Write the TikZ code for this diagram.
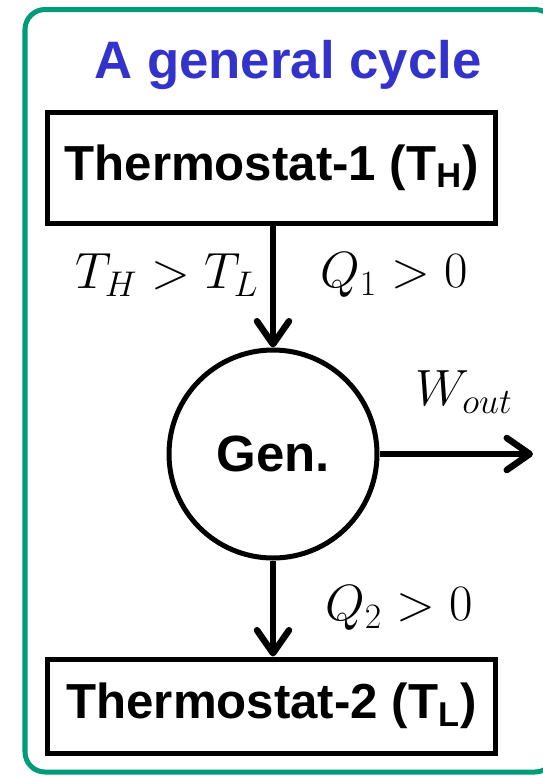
\documentclass[tikz,border=0pt]{standalone}
\usepackage{fix-cm}
\usepackage{fontspec}
\setmainfont{Liberation Sans}
\usetikzlibrary{arrows.meta, positioning}
\definecolor{framec}{HTML}{009B77}
\definecolor{titlec}{HTML}{3333CC}

\begin{document}
\begin{tikzpicture}[>={Straight Barb[length=4.6mm, width=6.4mm, round]},
      tbox/.style={draw, line width=0.1cm, minimum width=8.96cm, inner sep=0pt, font=\fontsize{28}{32}\selectfont\bfseries},
      gen/.style={draw, circle, line width=0.1cm, minimum size=4.16cm, inner sep=0pt, font=\fontsize{29}{34}\selectfont\bfseries},
      arr/.style={->, line width=0.13cm},
      lab/.style={font=\fontsize{29}{34}\selectfont}]
    \useasboundingbox (0,0) rectangle (10.86,-15.52);
    \draw[framec, line width=0.1cm, rounded corners=0.4cm] (0.5,-0.19) rectangle (11.1,-15.44);
    \node[anchor=base, text=titlec, font=\fontsize{30}{36}\selectfont\bfseries] (title) at (5.76,-1.56) {A general cycle};
    \node[tbox, minimum height=2.22cm] (hot) at (5.43,-3.35) {Thermostat-1 (T\textsubscript{H})};
    \node[gen] (engine) at (5.46,-9.08) {Gen.};
    \node[tbox, minimum height=1.88cm] (cold) at (5.43,-14.12) {Thermostat-2 (T\textsubscript{L})};
    \coordinate (wend) at (10.66,-9.08);
    % heat in, work out, heat rejected
    \draw[arr] (hot.south -| engine.north) -- (engine.north);
    \draw[arr] (engine.east) -- (wend);
    \draw[arr] (engine.south) -- (cold.north -| engine.south);
    \node[lab] (tcond) at (3.34,-5.5) {$T_H > T_L$};
    \node[lab] (qin) at (7.88,-5.5) {$Q_1 > 0$};
    \node[lab] (wout) at (9.28,-7.84) {$W_{out}$};
    \node[lab] (qout) at (7.98,-12.16) {$Q_2 > 0$};
\end{tikzpicture}
\end{document}
